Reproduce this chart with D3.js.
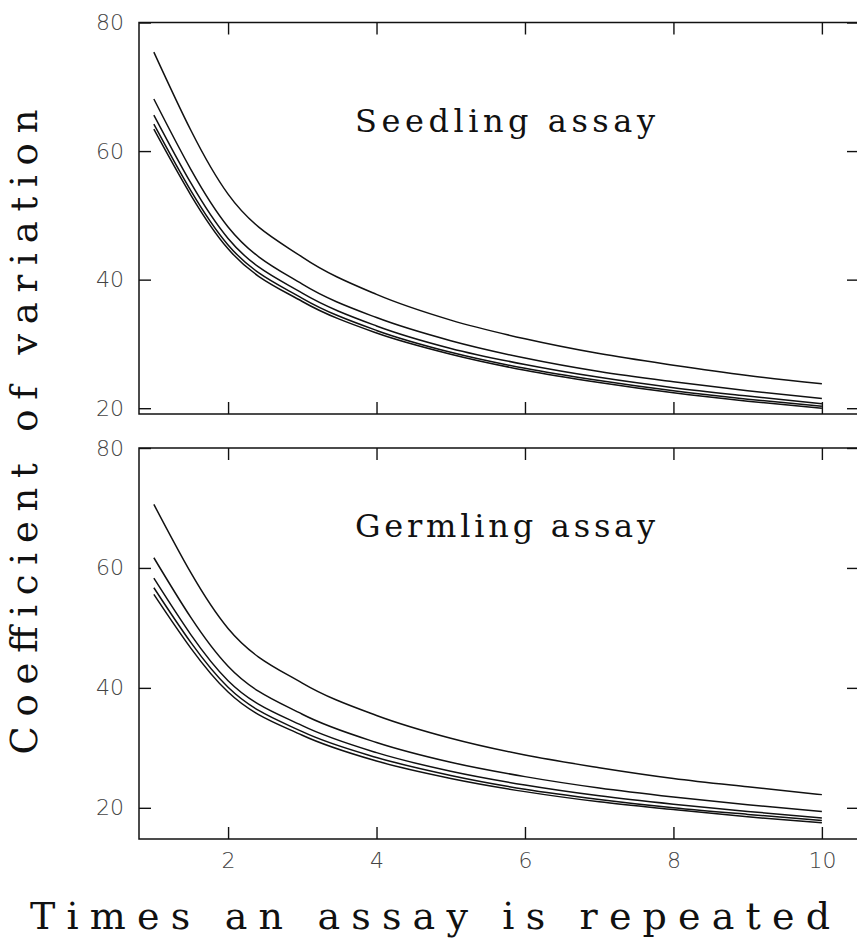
<!DOCTYPE html>
<html><head><meta charset="utf-8">
<script src="https://cdn.jsdelivr.net/npm/d3@7"></script>
<style>body{margin:0;background:#fff}</style></head>
<body>
<svg id="c" width="857" height="948"></svg>
<script>
const repeats = [1, 2, 3, 4, 5, 6, 7, 8, 9, 10];
const seedling = [
  [75.4, 53.3, 43.5, 37.7, 33.7, 30.8, 28.5, 26.7, 25.1, 23.8],
  [68.1, 48.2, 39.3, 34.1, 30.5, 27.8, 25.7, 24.1, 22.7, 21.5],
  [65.6, 46.4, 37.9, 32.8, 29.3, 26.8, 24.8, 23.2, 21.9, 20.7],
  [64.2, 45.4, 37.1, 32.1, 28.7, 26.2, 24.3, 22.7, 21.4, 20.3],
  [63.4, 44.8, 36.6, 31.7, 28.4, 25.9, 24.0, 22.4, 21.1, 20.0]
];
const germling = [
  [70.6, 49.9, 40.8, 35.4, 31.6, 28.8, 26.7, 24.9, 23.5, 22.2],
  [61.7, 43.6, 35.6, 30.9, 27.6, 25.2, 23.3, 21.8, 20.5, 19.4],
  [58.3, 41.2, 33.7, 29.2, 26.1, 23.8, 22.0, 20.6, 19.4, 18.3],
  [56.7, 40.1, 32.7, 28.4, 25.4, 23.1, 21.4, 20.0, 18.9, 17.9],
  [55.6, 39.3, 32.1, 27.8, 24.9, 22.7, 21.0, 19.7, 18.5, 17.5]
];
const xTicks = [2, 4, 6, 8, 10];
const yTicks = [20, 40, 60, 80];
const panelTitles = ["Seedling assay", "Germling assay"];
const xTitle = "Times an assay is repeated";
const yTitle = "Coefficient of variation";

const svg = d3.select("#c");
const left = 139, right = 859;
const x = d3.scaleLinear().domain([0.8, 10.5]).range([left, right]);

const panels = [
  {data: seedling, title: panelTitles[0], y: d3.scaleLinear().domain([19.1, 80]).range([414, 22.5]), ty: 132, showX: false},
  {data: germling, title: panelTitles[1], y: d3.scaleLinear().domain([14.8, 80]).range([839, 448]), ty: 537, showX: true}
];

const tickFont = "'DejaVu Sans', sans-serif";
const serif = "'DejaVu Serif', 'Liberation Serif', serif";

panels.forEach(p => {
  const y = p.y;
  const [yb, yt] = y.range();
  const g = svg.append("g");

  const la = g.append("g").attr("transform", `translate(${left},0)`)
    .call(d3.axisLeft(y).tickValues(yTicks).tickSize(-12).tickPadding(15).tickFormat(d3.format("d")));
  const ra = g.append("g").attr("transform", `translate(${right},0)`)
    .call(d3.axisRight(y).tickValues(yTicks).tickSize(-12).tickFormat(""));
  const ta = g.append("g").attr("transform", `translate(0,${yt})`)
    .call(d3.axisTop(x).tickValues(xTicks).tickSize(-12).tickFormat(""));
  const ba = g.append("g").attr("transform", `translate(0,${yb})`)
    .call(d3.axisBottom(x).tickValues(xTicks).tickSize(-12).tickPadding(13)
      .tickFormat(p.showX ? d3.format("d") : ""));

  [la, ra, ta, ba].forEach(a => {
    a.select(".domain").remove();
    a.selectAll(".tick line").attr("stroke", "#111").attr("stroke-width", 1.4);
    a.selectAll(".tick text").attr("font-family", tickFont).attr("font-size", 22)
      .attr("font-weight", 300).attr("fill", "#444");
  });

  g.append("rect").attr("x", left).attr("y", yt).attr("width", right - left).attr("height", yb - yt)
    .attr("fill", "none").attr("stroke", "#111").attr("stroke-width", 1.5);

  const line = d3.line().x((d, i) => x(repeats[i])).y(d => y(d)).curve(d3.curveMonotoneX);
  g.selectAll("path.curve").data(p.data).join("path").attr("class", "curve")
    .attr("d", line).attr("fill", "none").attr("stroke", "#111").attr("stroke-width", 1.5);

  g.append("text").attr("x", 505).attr("y", p.ty).attr("text-anchor", "middle")
    .attr("font-family", serif).attr("font-size", 32).attr("fill", "#111")
    .attr("textLength", 300).attr("lengthAdjust", "spacing").text(p.title);
});

svg.append("text").attr("x", 430).attr("y", 929).attr("text-anchor", "middle")
  .attr("font-family", serif).attr("font-size", 38).attr("fill", "#111")
  .attr("textLength", 800).attr("lengthAdjust", "spacing").text(xTitle);

svg.append("text").attr("transform", "translate(37,432) rotate(-90)").attr("text-anchor", "middle")
  .attr("font-family", serif).attr("font-size", 37).attr("fill", "#111")
  .attr("textLength", 645).attr("lengthAdjust", "spacing").text(yTitle);
</script>
</body></html>
